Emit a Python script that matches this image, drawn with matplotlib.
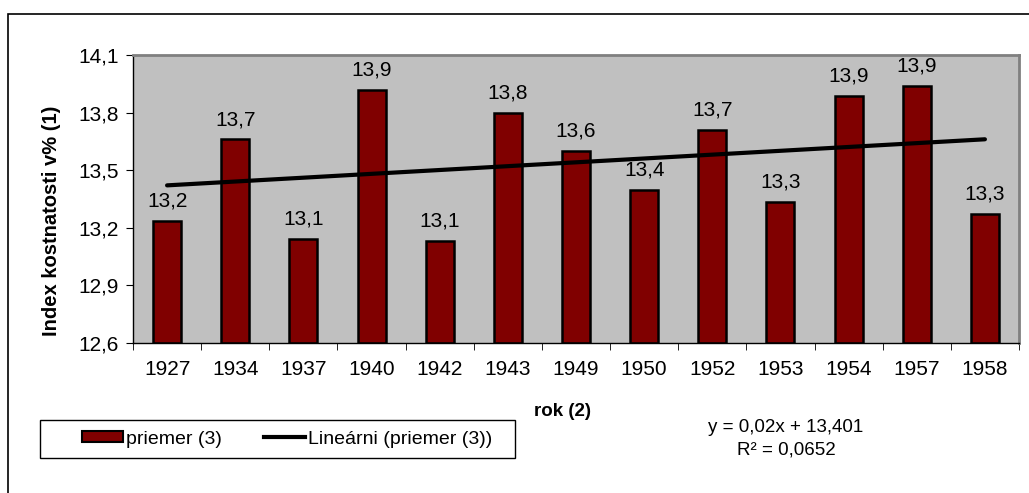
import matplotlib
matplotlib.use("Agg")
import matplotlib.pyplot as plt
from matplotlib.patches import Rectangle, Patch
from matplotlib.lines import Line2D
import numpy as np

plt.rcParams['font.family'] = ['Liberation Sans', 'DejaVu Sans']

years = ["1927", "1934", "1937", "1940", "1942", "1943", "1949", "1950",
         "1952", "1953", "1954", "1957", "1958"]
values = [13.235, 13.66, 13.14, 13.92, 13.13, 13.80, 13.60, 13.397,
          13.71, 13.334, 13.886, 13.94, 13.27]
labels = ["13,2", "13,7", "13,1", "13,9", "13,1", "13,8", "13,6", "13,4",
          "13,7", "13,3", "13,9", "13,9", "13,3"]
trend_slope = 0.02
trend_intercept = 13.401
yticks = [12.6, 12.9, 13.2, 13.5, 13.8, 14.1]
ytick_labels = ["12,6", "12,9", "13,2", "13,5", "13,8", "14,1"]

W, H = 1029, 493
fig = plt.figure(figsize=(W / 100, H / 100), dpi=100)

# outer chart border
fig.patches.append(Rectangle((8 / W, -0.05), 1.2, 1 - 14 / H + 0.05,
                             transform=fig.transFigure, fill=False,
                             edgecolor='black', linewidth=1.2))

ax = fig.add_axes([133 / W, 1 - 343 / H, (1019 - 133) / W, (343 - 55) / H])
ax.set_facecolor('#c0c0c0')
for s in ax.spines.values():
    s.set_color('#808080')
    s.set_linewidth(2)
ax.spines['left'].set_color('black')
ax.spines['left'].set_linewidth(1)
ax.spines['bottom'].set_color('black')
ax.spines['bottom'].set_linewidth(1)

x = np.arange(len(years))
ax.bar(x, [v - 12.6 for v in values], bottom=12.6, width=0.41,
       color='#800000', edgecolor='black', linewidth=1.8, zorder=2)
for xi, v, lab in zip(x, values, labels):
    ax.annotate(lab, (xi, v), xytext=(0, 7.5), textcoords='offset points',
                ha='center', va='bottom', fontsize=15, zorder=4)

xt = x + 1
ax.plot(x, trend_slope * xt + trend_intercept, color='black', linewidth=3,
        solid_capstyle='round', zorder=3)

ax.set_xlim(-0.5, len(years) - 0.5)
ax.set_ylim(12.6, 14.1)
ax.set_yticks(yticks)
ax.set_yticklabels(ytick_labels, fontsize=15)
ax.set_xticks(x)
ax.set_xticklabels(years, fontsize=15)
ax.set_xticks(np.arange(-0.5, len(years)), minor=True)
ax.tick_params(axis='x', which='major', length=0, pad=12)
ax.tick_params(axis='x', which='minor', length=5, direction='out')
ax.tick_params(axis='y', length=5, direction='out', pad=5)

fig.text(52 / W, 1 - 221 / H, "Index kostnatosti v% (1)", rotation=90,
         ha='center', va='center', fontsize=14.5, fontweight='bold')
fig.text(563 / W, 1 - 412 / H, "rok (2)", ha='center', va='center',
         fontsize=13.5, fontweight='bold')
fig.text(786 / W, 1 - 427 / H, "y = 0,02x + 13,401", ha='center',
         va='center', fontsize=13.5)
fig.text(786 / W, 1 - 450 / H, "R² = 0,0652", ha='center', va='center',
         fontsize=13.5)

# legend frame
fig.patches.append(Rectangle((40 / W, 1 - 458 / H), (515 - 40) / W,
                             (458 - 420) / H, transform=fig.transFigure,
                             fill=False, edgecolor='black', linewidth=1))
handles = [Patch(facecolor='#800000', edgecolor='black', linewidth=1.5),
           Line2D([], [], color='black', linewidth=3)]
leg = fig.legend(handles, ["priemer (3)", "Lineárni (priemer (3))"],
                 loc='center left', bbox_to_anchor=(82 / W, 1 - 439 / H),
                 ncol=2, fontsize=14, frameon=False,
                 handlelength=2.1, handletextpad=0.15, handleheight=0.55,
                 columnspacing=2.2, borderpad=0, borderaxespad=0)

fig.savefig("out.png", dpi=100)
